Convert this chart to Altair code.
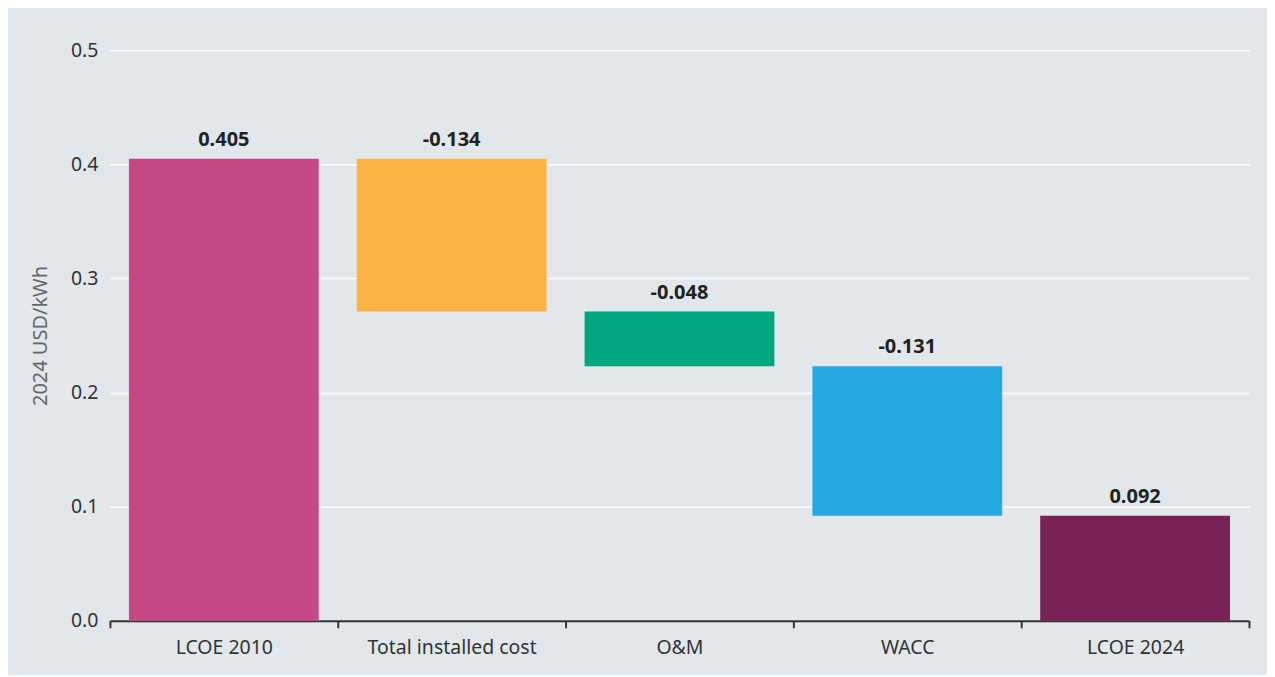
import altair as alt
import pandas as pd

categories = ["LCOE 2010", "Total installed cost", "O&M", "WACC", "LCOE 2024"]
values = [0.405, -0.134, -0.048, -0.131, 0.092]
labels = ["0.405", "-0.134", "-0.048", "-0.131", "0.092"]
colors = ["#c64884", "#fbb443", "#00a77e", "#23a8e0", "#7a2155"]
y_ticks = [0.0, 0.1, 0.2, 0.3, 0.4, 0.5]

rows = []
running = 0.0
for i, (c, v, l) in enumerate(zip(categories, values, labels)):
    if i == 0 or i == len(categories) - 1:
        start, end = 0.0, v
        running = v
    else:
        start, end = running, running + v
        running = end
    rows.append({"cat": c, "start": start, "end": end, "top": max(start, end), "label": l})
df = pd.DataFrame(rows)

FONT = "Noto Sans"

x_enc = alt.X(
    "cat:N",
    sort=categories,
    title=None,
    scale=alt.Scale(paddingInner=0, paddingOuter=0),
    axis=alt.Axis(
        labelAngle=0,
        labelFontSize=19.5,
        labelColor="#333333",
        labelFont=FONT,
        labelPadding=11,
        domainColor="#333333",
        domainWidth=2,
        tickColor="#333333",
        tickWidth=2,
        tickSize=7,
        tickBand="extent",
        grid=False,
    ),
)

bars = alt.Chart(df).mark_bar(width=alt.RelativeBandSize(0.833)).encode(
    x=x_enc,
    y=alt.Y(
        "start:Q",
        title="2024 USD/kWh",
        scale=alt.Scale(domain=[0, 0.5], nice=False),
        axis=alt.Axis(
            values=y_ticks,
            format=".1f",
            labelFontSize=19.5,
            labelColor="#333333",
            labelFont=FONT,
            labelPadding=12,
            ticks=False,
            domain=False,
            gridColor="#ffffff",
            gridWidth=1.5,
            titleFontSize=20,
            titleFont=FONT,
            titleFontWeight="normal",
            titleColor="#666666",
            titlePadding=20,
        ),
    ),
    y2="end:Q",
    color=alt.Color("cat:N", sort=categories, scale=alt.Scale(domain=categories, range=colors), legend=None),
)

text = alt.Chart(df).mark_text(
    baseline="bottom", dy=-9, fontSize=20, fontWeight="bold", font=FONT, color="#222222"
).encode(
    x=alt.X("cat:N", sort=categories),
    y=alt.Y("top:Q"),
    text="label:N",
)

chart = (
    alt.layer(bars, text)
    .properties(
        width=1140,
        height=571,
        background="#e2e7eb",
        padding={"left": 102, "top": 42, "right": 18, "bottom": 54},
        autosize=alt.AutoSizeParams(type="none"),
    )
    .configure_view(stroke=None)
)

chart.save("out.html", embed_options={"renderer": "svg", "actions": False})
